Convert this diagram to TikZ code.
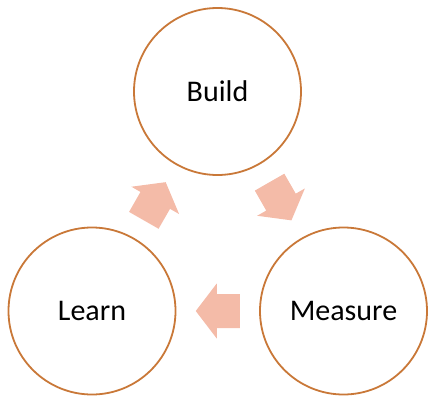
\documentclass[tikz,border=0pt]{standalone}
\usepackage{fontspec}
\setmainfont{Carlito}
\definecolor{ringc}{HTML}{C97838}
\definecolor{arrowc}{HTML}{F4BBA8}
\tikzset{
  x=1pt, y=-1pt,
  stage/.style={circle, draw=ringc, line width=1.8pt, fill=white, minimum size=167pt, inner sep=0pt,
    font=\fontsize{30}{36}\selectfont},
  blockarrow/.pic={
    \fill[arrowc] (-22,-17) -- (1,-17) -- (1,-27.5) -- (22,0) -- (1,27.5) -- (1,17) -- (-22,17) -- cycle;
  }
}
\begin{document}
\begin{tikzpicture}
\useasboundingbox (0,0) rectangle (433,404);
\node[stage] (build) at (217.5,91.5) {Build};
\node[stage] (learn) at (92,311) {Learn};
\node[stage] (measure) at (343.5,311) {Measure};
\path (learn) -- (build) coordinate[pos=0.5] (m1);
\path (build) -- (measure) coordinate[pos=0.5] (m2);
\path (measure) -- (learn) coordinate[pos=0.5] (m3);
\pic[rotate=60.2] at (m1) {blockarrow};
\pic[rotate=-60.2] at (m2) {blockarrow};
\pic[rotate=180] at (m3) {blockarrow};
\end{tikzpicture}
\end{document}
